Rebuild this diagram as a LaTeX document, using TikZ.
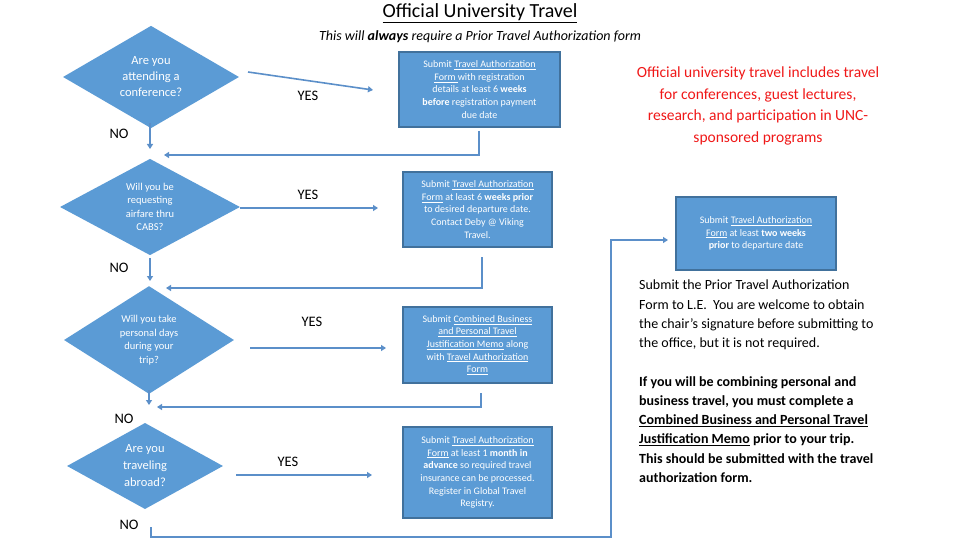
\documentclass[tikz,border=0pt]{standalone}
\usepackage{fontspec}
\setmainfont{Carlito}
\usetikzlibrary{shapes.geometric,arrows.meta}
\definecolor{boxfill}{HTML}{5B9BD5}
\definecolor{boxline}{HTML}{41719C}
\definecolor{arr}{HTML}{5B8FC9}
\definecolor{redtxt}{HTML}{F01818}
\tikzset{
  dec/.style={diamond, fill=boxfill, draw=none, inner sep=0pt, text=white, align=center},
  act/.style={rectangle, fill=boxfill, draw=boxline, line width=1.2pt, text=white, align=center, font=\fontsize{10}{12.6}\selectfont, inner sep=0pt},
  lab/.style={font=\fontsize{14.5}{16}\selectfont, inner sep=0pt},
  con/.style={draw=arr, line width=1.6pt, -{Triangle[length=5pt,width=6pt]}},
  line/.style={draw=arr, line width=1.6pt}
}
\begin{document}
\begin{tikzpicture}[x=1pt,y=-1pt]
\useasboundingbox[fill=white] (0,0) rectangle (960,540);
\node[font=\fontsize{20}{22}\selectfont] (title) at (480,13) {\underline{Official University Travel}};
\node[font=\fontsize{14}{16}\selectfont\itshape] (sub) at (480,37) {This will \textbf{always} require a Prior Travel Authorization form};

% diamonds
\node[dec, minimum width=176, minimum height=78, font=\fontsize{12.5}{16}\selectfont] (d1) at (151,77) {Are you\\attending a\\conference?};
\node[dec, minimum width=180, minimum height=94, font=\fontsize{10.5}{13.5}\selectfont] (d2) at (150,207) {Will you be\\requesting\\airfare thru\\CABS?};
\node[dec, minimum width=170, minimum height=95, font=\fontsize{10.5}{13.5}\selectfont] (d3) at (149,340) {Will you take\\personal days\\during your\\trip?};
\node[dec, minimum width=156, minimum height=86, font=\fontsize{12.5}{17}\selectfont] (d4) at (145,466) {Are you\\traveling\\abroad?};

% boxes
\node[act, minimum width=161, minimum height=75] (b1) at (479.5,89.5) {Submit \underline{Travel Authorization}\\\underline{Form }with registration\\details at least 6 \textbf{weeks}\\\textbf{before} registration payment\\due date};
\node[act, minimum width=149, minimum height=75] (b2) at (477.5,209.5) {Submit \underline{Travel Authorization}\\\underline{Form} at least 6 \textbf{weeks prior}\\to desired departure date.\\Contact Deby @ Viking\\Travel.};
\node[act, minimum width=149, minimum height=76] (b3) at (477.5,345) {Submit \underline{Combined Business}\\\underline{and Personal Travel}\\\underline{Justification Memo} along\\with \underline{Travel Authorization}\\\underline{Form}};
\node[act, minimum width=149, minimum height=91] (b4) at (477.5,472.5) {Submit \underline{Travel Authorization}\\\underline{Form} at least 1 \textbf{month in}\\\textbf{advance} so required travel\\insurance can be processed.\\Register in Global Travel\\Registry.};
\node[act, minimum width=160, minimum height=73] (b5) at (756,233.5) {Submit \underline{Travel Authorization}\\\underline{Form} at least \textbf{two weeks}\\\textbf{prior} to departure date};

% labels
\node[lab] (y1) at (308,96) {YES};
\node[lab] (y2) at (308,195) {YES};
\node[lab] (y3) at (312,322) {YES};
\node[lab] (y4) at (288,462) {YES};
\node[lab] (n1) at (119,134) {NO};
\node[lab] (n2) at (119,268) {NO};
\node[lab] (n3) at (124,419) {NO};
\node[lab] (n4) at (129,525) {NO};

% coordinates
\coordinate (p1s) at (248,72); \coordinate (p1e) at (373,90);
\coordinate (n1s) at (150,123); \coordinate (n1e) at (150,149);
\coordinate (r1a) at (479,131); \coordinate (r1b) at (479,155); \coordinate (r1e) at (164,155);
\coordinate (p2s) at (240,208); \coordinate (p2e) at (378,208);
\coordinate (n2s) at (150,258); \coordinate (n2e) at (150,281);
\coordinate (r2a) at (482,257); \coordinate (r2b) at (482,288); \coordinate (r2e) at (166,288);
\coordinate (p3s) at (250,348); \coordinate (p3e) at (386,348);
\coordinate (n3s) at (149,390); \coordinate (n3e) at (149,405);
\coordinate (r3a) at (481,393); \coordinate (r3b) at (481,407); \coordinate (r3e) at (157,407);
\coordinate (p4s) at (236,475); \coordinate (p4e) at (372,475);
\coordinate (q1) at (151,527); \coordinate (q2) at (151,537); \coordinate (q3) at (611,537); \coordinate (q4) at (611,240); \coordinate (q5) at (668,240);

\draw[con] (p1s) -- (p1e);
\draw[con] (n1s) -- (n1e);
\draw[con] (r1a) -- (r1b) -- (r1e);
\draw[con] (p2s) -- (p2e);
\draw[con] (n2s) -- (n2e);
\draw[con] (r2a) -- (r2b) -- (r2e);
\draw[con] (p3s) -- (p3e);
\draw[con] (n3s) -- (n3e);
\draw[con] (r3a) -- (r3b) -- (r3e);
\draw[con] (p4s) -- (p4e);
\draw[con] (q1) -- (q2) -- (q3) -- (q4) -- (q5);

% right texts
\node[text=redtxt, align=center, font=\fontsize{15.5}{21.5}\selectfont] (red) at (758,106) {Official university travel includes travel\\for conferences, guest lectures,\\research, and participation in UNC-\\sponsored programs};
\node[anchor=north west, align=left, font=\fontsize{14}{19.3}\selectfont, inner sep=0pt] (para1) at (639,280) {Submit the Prior Travel Authorization\\Form to L.E.\ \ You are welcome to obtain\\the chair’s signature before submitting to\\the office, but it is not required.};
\node[anchor=north west, align=left, font=\fontsize{14}{19.3}\selectfont\bfseries, inner sep=0pt] (para2) at (639,376) {If you will be combining personal and\\business travel, you must complete a\\\underline{Combined Business and Personal Travel}\\\underline{Justification Memo} prior to your trip.\\This should be submitted with the travel\\authorization form.};
\end{tikzpicture}
\end{document}
